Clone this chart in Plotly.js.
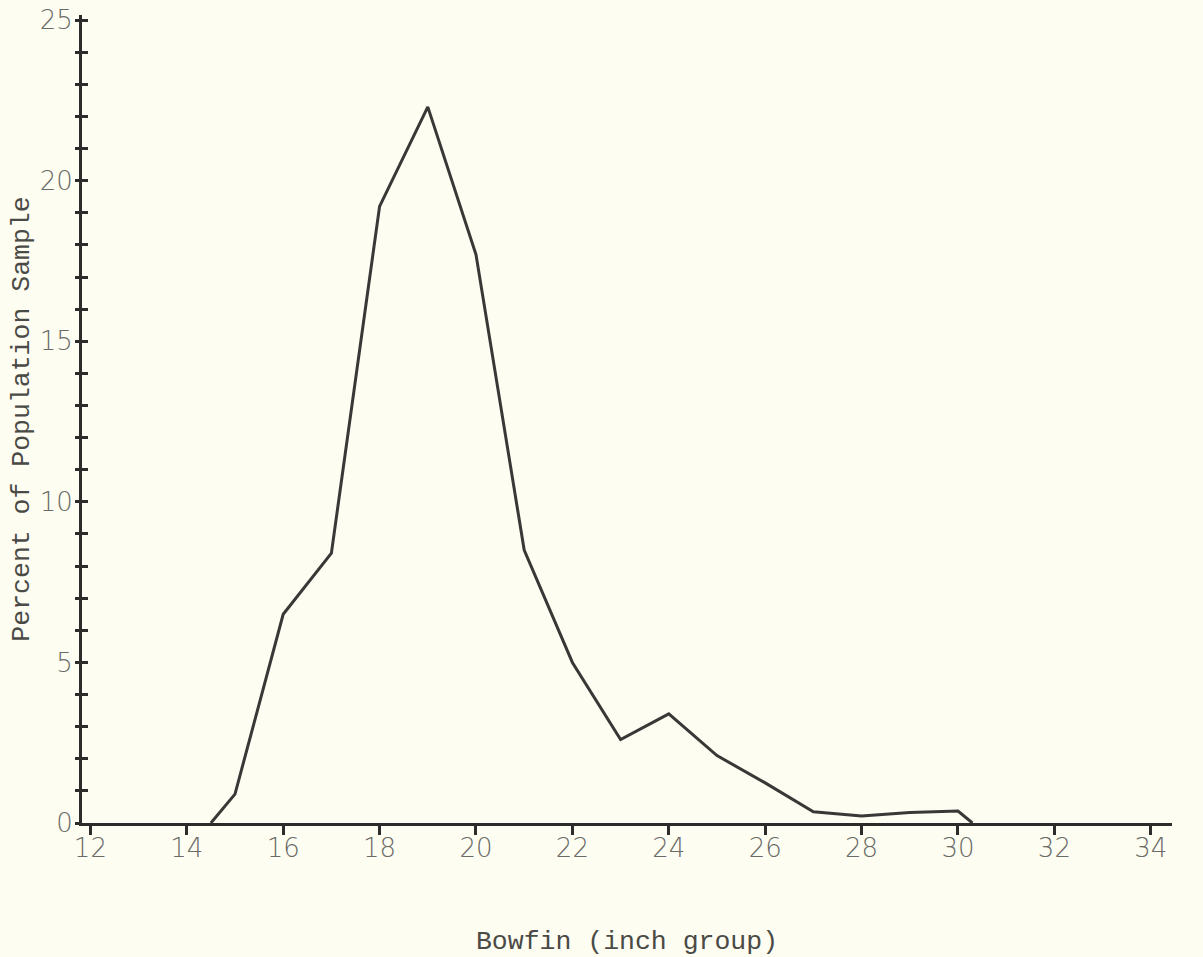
<!DOCTYPE html>
<html>
<head>
<meta charset="utf-8">
<script src="https://cdn.plot.ly/plotly-3.0.1.min.js"></script>
<style>
  html, body { margin: 0; padding: 0; background: #fdfdf2; }
  #chart { width: 1203px; height: 957px; }
</style>
</head>
<body>
<div id="chart"></div>
<script>
// Bowfin length-frequency (inch group) vs percent of population sample
const inchGroup = [14.5, 15, 16, 17, 18, 19, 20, 21, 22, 23, 24, 25, 26, 27, 28, 29, 30, 30.3];
const percentSample = [0, 0.9, 6.5, 8.4, 19.2, 22.3, 17.7, 8.5, 5.0, 2.6, 3.4, 2.1, 1.25, 0.35, 0.22, 0.33, 0.37, 0];

const xTickVals = [12, 14, 16, 18, 20, 22, 24, 26, 28, 30, 32, 34];
const xTickText = ["12", "14", "16", "18", "20", "22", "24", "26", "28", "30", "32", "34"];
const yTickVals = [0, 5, 10, 15, 20, 25];
const yTickText = ["0", "5", "10", "15", "20", "25"];

const ink = '#2e2c2a';
const labelFont = { family: 'DejaVu Sans, sans-serif', size: 26, color: '#6a6a66', weight: 300 };
const titleFont = { family: 'Liberation Mono, DejaVu Sans Mono, monospace', size: 26.5, color: '#4a4a46' };

const yRange = [0, 25.16];
const xRange = [11.826, 34.44];

const traces = [{
  x: inchGroup,
  y: percentSample,
  type: 'scatter',
  mode: 'lines',
  line: { color: '#3a3836', width: 3 },
  hoverinfo: 'x+y',
  showlegend: false
}];

const tickAxisBase = {
  range: yRange,
  overlaying: 'y',
  side: 'left',
  anchor: 'x',
  tickmode: 'linear',
  tick0: 0,
  dtick: 1,
  ticklen: 6,
  tickwidth: 3,
  tickcolor: ink,
  showticklabels: false,
  showline: false,
  showgrid: false,
  zeroline: false
};

const layout = {
  width: 1203,
  height: 957,
  paper_bgcolor: '#fdfdf2',
  plot_bgcolor: '#fdfdf2',
  margin: { l: 82, r: 31, t: 15, b: 134 },
  showlegend: false,
  xaxis: {
    range: xRange,
    tickmode: 'array',
    tickvals: xTickVals,
    ticktext: xTickText,
    ticks: '',
    ticklabelstandoff: 0,
    tickfont: labelFont,
    showline: true,
    linecolor: ink,
    linewidth: 3,
    showgrid: false,
    zeroline: false,
    title: { text: 'Bowfin (inch group)', font: titleFont, standoff: 80 },
    automargin: false
  },
  xaxis2: {
    range: xRange,
    overlaying: 'x',
    side: 'bottom',
    anchor: 'y',
    tickmode: 'array',
    tickvals: xTickVals,
    ticks: 'outside',
    ticklen: 11,
    tickwidth: 3,
    tickcolor: ink,
    showticklabels: false,
    showline: false,
    showgrid: false,
    zeroline: false
  },
  yaxis: {
    range: yRange,
    tickmode: 'array',
    tickvals: yTickVals,
    ticktext: yTickText,
    ticks: '',
    ticklabelstandoff: 1,
    tickfont: labelFont,
    showline: true,
    linecolor: ink,
    linewidth: 3,
    showgrid: false,
    zeroline: false,
    title: { text: 'Percent of Population Sample', font: titleFont, standoff: 3 },
    automargin: false
  },
  yaxis2: Object.assign({}, tickAxisBase, { ticks: 'outside' }),
  yaxis3: Object.assign({}, tickAxisBase, { ticks: 'inside' })
};

// invisible traces that activate the overlay tick axes
traces.push({ x: [inchGroup[0]], y: [percentSample[0]], xaxis: 'x2', yaxis: 'y2', type: 'scatter', mode: 'markers', marker: { opacity: 0 }, hoverinfo: 'skip', showlegend: false });
traces.push({ x: [inchGroup[0]], y: [percentSample[0]], yaxis: 'y3', type: 'scatter', mode: 'markers', marker: { opacity: 0 }, hoverinfo: 'skip', showlegend: false });

Plotly.newPlot('chart', traces, layout, { displayModeBar: false, staticPlot: true });
</script>
</body>
</html>
